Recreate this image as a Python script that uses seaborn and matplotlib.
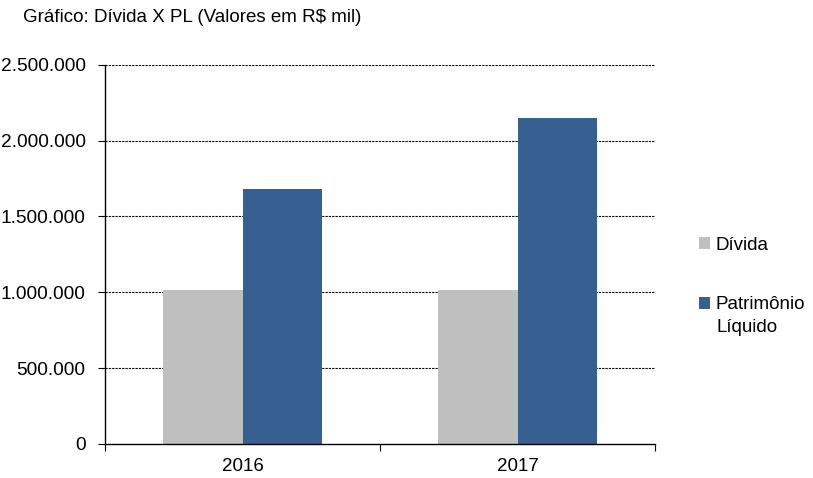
import matplotlib
matplotlib.use("Agg")
import matplotlib.pyplot as plt
import seaborn as sns
import pandas as pd
from matplotlib.ticker import FuncFormatter
from matplotlib.patches import Patch

years = ["2016", "2017"]
series = ["Dívida", "Patrimônio Líquido"]
divida = [1015000, 1015000]
patrimonio = [1680000, 2150000]
yticks = [0, 500000, 1000000, 1500000, 2000000, 2500000]
title = "Gráfico: Dívida X PL (Valores em R$ mil)"
colors = ["#BFBFBF", "#36608F"]

df = pd.DataFrame({
    "Ano": years * 2,
    "Série": [series[0]] * 2 + [series[1]] * 2,
    "Valor": divida + patrimonio,
})

sns.set_theme(style="white")
plt.rcParams["font.family"] = ["Liberation Sans", "DejaVu Sans"]

fig = plt.figure(figsize=(8.13, 4.78), dpi=100)
ax = fig.add_axes([105 / 813, 34 / 478, 550 / 813, (444 - 64.7) / 478])

sns.barplot(data=df, x="Ano", y="Valor", hue="Série", palette=colors,
            width=0.575, gap=0, dodge=True, ax=ax, legend=False,
            saturation=1, edgecolor="none", linewidth=0)

ax.set_xlim(-0.5, 1.5)
ax.set_ylim(0, 2500000)
ax.set_yticks(yticks)
ax.yaxis.set_major_formatter(FuncFormatter(lambda v, p: f"{int(v):,}".replace(",", ".")))
ax.set_xlabel("")
ax.set_ylabel("")

for v in yticks[1:]:
    ax.axhline(v, color="black", linewidth=0.8, linestyle=(0, (2, 1)), zorder=0)

for s in ["top", "right"]:
    ax.spines[s].set_visible(False)
for s in ["left", "bottom"]:
    ax.spines[s].set_color("black")
    ax.spines[s].set_linewidth(1.0)

ax.tick_params(axis="y", which="major", direction="out", length=5, width=0.8,
               color="black", labelsize=13.8, pad=9, left=True)
ax.tick_params(axis="x", which="major", length=0, labelsize=13.5, pad=10)
ax.set_xticks([-0.5, 0.5, 1.5], minor=True)
ax.tick_params(axis="x", which="minor", direction="out", length=5, width=0.8,
               color="black", bottom=True)
for lab in ax.get_yticklabels() + ax.get_xticklabels():
    lab.set_color("black")

fig.text(23 / 813, 1 - 18 / 478, title, fontsize=13.5, color="black",
         ha="left", va="center")

handles = [Patch(facecolor=colors[0], edgecolor="none"),
           Patch(facecolor=colors[1], edgecolor="none")]
leg = fig.legend(handles, ["Dívida", "Patrimônio"], loc="upper left",
                 bbox_to_anchor=(699 / 813, 1 - 237 / 478), frameon=False,
                 fontsize=13.5, handlelength=0.6, handleheight=0.6,
                 handletextpad=0.3, labelspacing=2.25, borderpad=0, borderaxespad=0)
for t in leg.get_texts():
    t.set_color("black")
fig.text(716 / 813, 1 - 327 / 478, "Líquido", fontsize=13.5, color="black",
         ha="left", va="center")

fig.savefig("out.png", dpi=100)
